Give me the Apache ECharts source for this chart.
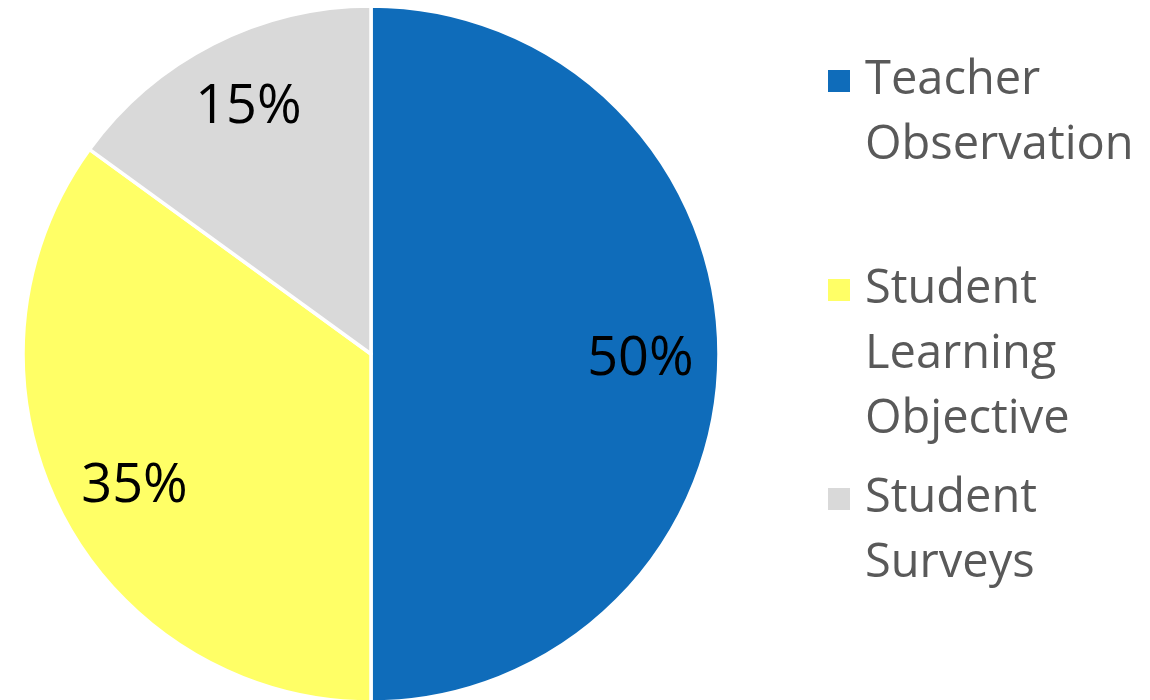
<!DOCTYPE html>
<html>
<head>
<meta charset="utf-8">
<script src="https://cdn.jsdelivr.net/npm/echarts@6/dist/echarts.min.js"></script>
<style>
  html, body { margin: 0; padding: 0; background: #ffffff; }
  #chart { width: 1150px; height: 700px; }
</style>
</head>
<body>
<div id="chart"></div>
<script>
// Weighting of the evaluation components
const categories = ['Teacher Observation', 'Student Learning Objective', 'Student Surveys'];
const shares = [50, 35, 15];
const colors = ['#0F6CBA', '#FFFF66', '#D9D9D9'];
// Legend text, wrapped the way it is shown
const legendLines = [
  ['Teacher', 'Observation'],
  ['Student', 'Learning', 'Objective'],
  ['Student', 'Surveys']
];
// Marker tops for each legend entry
const legendMarkerTops = [69, 278, 487];
// Small nudges for the percentage labels
const labelNudges = [[-5, 6], [8, 8], [2, -2]];

const FONT = '"Open Sans", "Noto Sans", sans-serif';
const LINE_H = 65;
const ICON = 24;
const CX = 371, CY = 354, R = 348;

const pieData = categories.map((name, i) => ({
  name: name,
  value: shares[i],
  itemStyle: { color: colors[i] }
}));

// One legend per entry so each block can sit at its own height.
// Leading blank lines keep the marker level with the first text line.
const legends = categories.map((name, i) => {
  const lines = legendLines[i];
  const pad = lines.length - 1;
  const total = lines.length + pad;
  const textTop = ICON / 2 - (total * LINE_H) / 2;
  return {
    data: [name],
    orient: 'vertical',
    left: 826,
    top: legendMarkerTops[i] + textTop,
    padding: 0,
    itemWidth: ICON,
    itemHeight: ICON,
    icon: 'rect',
    selectedMode: false,
    formatter: () => new Array(pad).fill('').concat(lines).join('\n'),
    textStyle: {
      fontFamily: FONT,
      fontSize: 47,
      color: '#595959',
      lineHeight: LINE_H,
      padding: [0, 0, 0, 9]
    }
  };
});

const chart = echarts.init(document.getElementById('chart'), null, { renderer: 'canvas' });
chart.setOption({
  animation: false,
  backgroundColor: '#ffffff',
  legend: legends,
  series: [
    {
      type: 'pie',
      center: [CX, CY],
      radius: [0, R],
      startAngle: 90,
      clockwise: true,
      silent: true,
      data: pieData,
      itemStyle: { borderColor: '#ffffff', borderWidth: 3.5 },
      label: { show: false },
      labelLine: { show: false }
    },
    {
      // invisible ring that carries the percentage labels further out
      type: 'pie',
      center: [CX, CY],
      radius: [R * 0.56, R],
      startAngle: 90,
      clockwise: true,
      silent: true,
      data: pieData.map((d, i) => ({
        name: d.name,
        value: d.value,
        label: { offset: labelNudges[i] }
      })),
      itemStyle: { color: 'rgba(0,0,0,0)', borderWidth: 0 },
      label: {
        show: true,
        position: 'inside',
        formatter: p => p.value + '%',
        fontFamily: FONT,
        fontSize: 54,
        color: '#000000'
      },
      labelLine: { show: false },
      emphasis: { disabled: true }
    }
  ]
});
</script>
</body>
</html>
